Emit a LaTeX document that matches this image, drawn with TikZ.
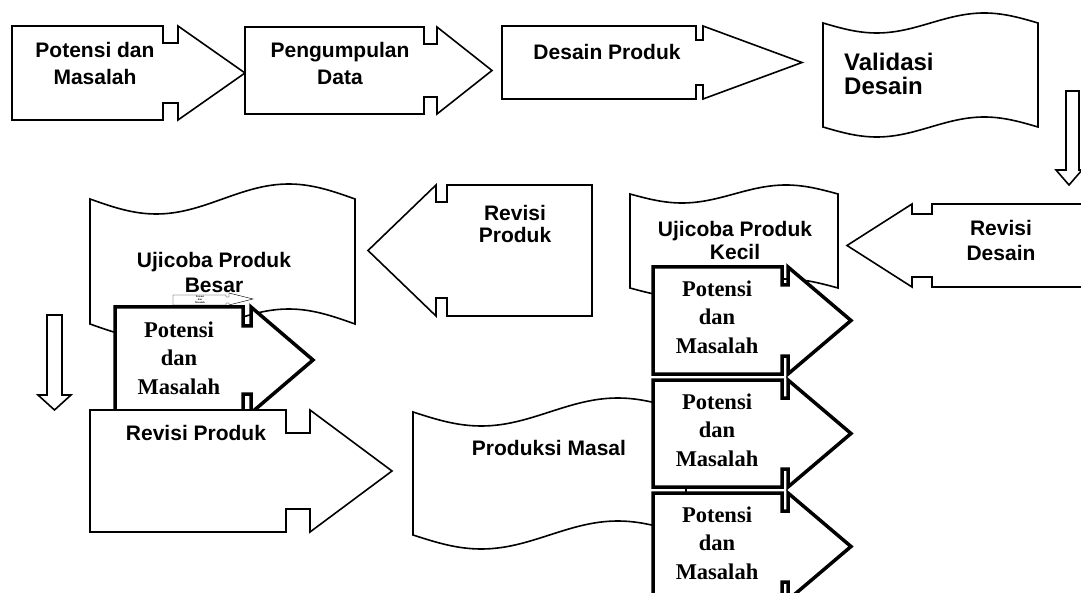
\documentclass[tikz,border=0pt]{standalone}
\usepackage{fontspec}
\setmainfont{Liberation Sans}
\newfontfamily\timesfont{Liberation Serif}
\tikzset{
  blok/.style={draw=black, fill=white, line width=1.6pt, line join=miter},
  tebal/.style={blok, line width=3.5pt},
  lbl/.style={font=\bfseries\fontsize{21}{25}\selectfont, align=center, inner sep=0pt},
  tlbl/.style={font=\timesfont\bfseries\fontsize{22.5}{28.5}\selectfont, align=center, inner sep=0pt}
}
\begin{document}
\begin{tikzpicture}[x=1pt,y=-1pt]
\useasboundingbox (0,0) rectangle (1081,593);
\clip (0,0) rectangle (1081,593);
\fill[white] (0,0) rectangle (1081,593);
% baris atas
\draw[blok] (12,26) -- (163,26) -- (163,43) -- (178,43) -- (178,26) -- (245,73) -- (178,120) -- (178,103) -- (163,103) -- (163,120) -- (12,120) -- cycle;
\node[lbl, font=\bfseries\fontsize{21}{27}\selectfont] (potensi) at (95,63) {Potensi dan\\Masalah};
\draw[blok] (245,27) -- (424,27) -- (424,44) -- (437,44) -- (437,27) -- (492,70.5) -- (437,114) -- (437,97) -- (424,97) -- (424,114) -- (245,114) -- cycle;
\node[lbl, font=\bfseries\fontsize{21}{27}\selectfont] (data) at (340,63) {Pengumpulan\\Data};
\draw[blok] (502,26) -- (696,26) -- (696,40) -- (703,40) -- (703,26) -- (802,62.5) -- (703,99) -- (703,85) -- (696,85) -- (696,99) -- (502,99) -- cycle;
\node[lbl] (desain) at (607,52) {Desain Produk};
\draw[blok] (823,23) sin (876.75,33) cos (930.5,23) sin (984.25,13) cos (1038,23) -- (1038,127) sin (984.25,117) cos (930.5,127) sin (876.75,137) cos (823,127) -- cycle;
\node[lbl, align=left, anchor=west, font=\bfseries\fontsize{24}{24}\selectfont] (validasi) at (844,73.5) {Validasi\\Desain};
\draw[blok] (1066,91) -- (1079,91) -- (1079,170) -- (1082,170) -- (1069,185) -- (1056,170) -- (1066,170) -- cycle;
% baris tengah
\draw[blok] (1100,204) -- (932,204) -- (932,214) -- (912,214) -- (912,204) -- (847,245.5) -- (912,287) -- (912,277) -- (932,277) -- (932,287) -- (1100,287) -- cycle;
\node[lbl] (revdesain) at (1001,240.5) {Revisi\\Desain};
\draw[blok] (630,194) sin (682,203) cos (734,194) sin (786,185) cos (838,194) -- (838,288) sin (786,279) cos (734,288) sin (682,297) cos (630,288) -- cycle;
\node[lbl, font=\bfseries\fontsize{21}{23}\selectfont] (kecil) at (735,240.5) {Ujicoba Produk\\Kecil};
\draw[blok] (592,185) -- (447,185) -- (447,202) -- (436,202) -- (436,185) -- (368,250.5) -- (436,316) -- (436,298) -- (447,298) -- (447,316) -- (592,316) -- cycle;
\node[lbl, font=\bfseries\fontsize{21}{22}\selectfont] (revproduk) at (515,224) {Revisi\\Produk};
\draw[blok] (90,199) sin (156.25,214) cos (222.5,199) sin (288.75,184) cos (355,199) -- (355,324) sin (288.75,309) cos (222.5,324) sin (156.25,339) cos (90,324) -- cycle;
\node[lbl] (besar) at (214,272.5) {Ujicoba Produk\\Besar};
\draw[blok, line width=0.4pt] (173,295) -- (226,295) -- (226,297) -- (229,297) -- (229,293) -- (253,299) -- (229,305) -- (229,303) -- (226,303) -- (226,305) -- (173,305) -- cycle;
\node[font=\timesfont\bfseries\fontsize{2.6}{3}\selectfont, align=center, inner sep=0pt] (mini) at (200,300) {Potensi\\dan\\Masalah};
\draw[tebal] (115,307) -- (243,307) -- (243,326) -- (251,326) -- (251,307) -- (313,360) -- (251,413) -- (251,394) -- (243,394) -- (243,413) -- (115,413) -- cycle;
\node[tlbl] (pkiri) at (179,358) {Potensi\\dan\\Masalah};
% baris bawah
\draw[blok] (47,315) -- (62,315) -- (62,395) -- (71,395) -- (54.5,410) -- (38,395) -- (47,395) -- cycle;
\draw[blok] (90,410) -- (286,410) -- (286,433) -- (310,433) -- (310,410) -- (392,471) -- (310,532) -- (310,509) -- (286,509) -- (286,532) -- (90,532) -- cycle;
\node[lbl] (revproduk2) at (196,433) {Revisi Produk};
\draw[blok] (413,412) sin (481.25,426) cos (549.5,412) sin (617.75,398) cos (686,412) -- (686,535) sin (617.75,521) cos (549.5,535) sin (481.25,549) cos (413,535) -- cycle;
\node[lbl] (masal) at (549,448) {Produksi Masal};
\foreach \t/\n in {267/pa,380/pb,493/pc}{
  \draw[tebal] (653,\t) -- (782,\t) -- (782,\t+18) -- (788,\t+18) -- (788,\t) -- (851,\t+53.5) -- (788,\t+107) -- (788,\t+89) -- (782,\t+89) -- (782,\t+107) -- (653,\t+107) -- cycle;
  \node[tlbl] (\n) at (717,\t+50) {Potensi\\dan\\Masalah};
}
\end{tikzpicture}
\end{document}
